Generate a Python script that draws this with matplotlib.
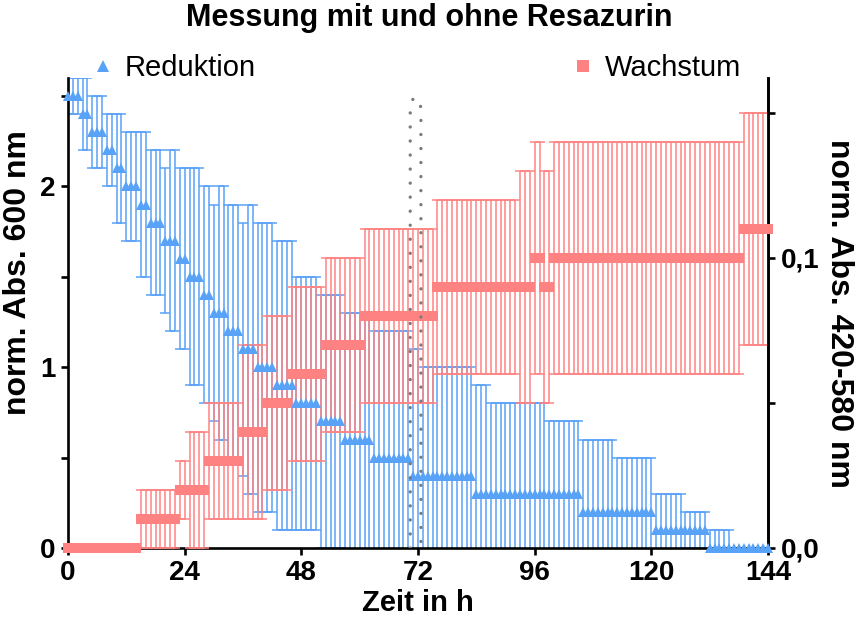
import numpy as np
import matplotlib
matplotlib.use("Agg")
import matplotlib.pyplot as plt
from matplotlib.lines import Line2D
from matplotlib.path import Path
from matplotlib.patches import PathPatch

# hourly readings, 0..144 h
hours = np.arange(0, 145)

reduktion_levels = [2.5, 2.4, 2.3, 2.2, 2.1, 2.0, 1.9, 1.8, 1.7, 1.6, 1.5, 1.4, 1.3,
                    1.2, 1.1, 1.0, 0.9, 0.8, 0.7, 0.6, 0.5, 0.4, 0.3, 0.2, 0.1, 0.0]
reduktion_runs = [3, 2, 3, 2, 2, 3, 2, 3, 3, 2, 3, 2, 3,
                  3, 3, 4, 4, 5, 5, 6, 8, 13, 22, 15, 11, 13]
reduktion_sd_levels = [0.1, 0.2, 0.3, 0.4, 0.5, 0.6, 0.7, 0.8, 0.7, 0.6, 0.5, 0.4, 0.3, 0.2, 0.1, 0.0]
reduktion_sd_runs = [3, 7, 5, 6, 4, 6, 6, 10, 26, 14, 12, 14, 8, 6, 10, 8]

# Wachstum (right axis)
wachstum_levels = [0.00, 0.01, 0.02, 0.03, 0.04, 0.05, 0.06, 0.07, 0.08, 0.09,
                   0.10, 0.09, 0.10, 0.11]
wachstum_runs = [15, 8, 6, 7, 5, 5, 7, 8, 15, 20, 2, 2, 39, 6]
wachstum_sd_levels = [0.0, 0.01, 0.02, 0.03, 0.04]
wachstum_sd_runs = [15, 10, 11, 57, 52]

# dotted marker box around the 72 h reading
box_x = [70.4, 72.6]
box_top = 2.49

reduktion = np.repeat(reduktion_levels, reduktion_runs)
reduktion_sd = np.repeat(reduktion_sd_levels, reduktion_sd_runs)
wachstum = np.repeat(wachstum_levels, wachstum_runs)
wachstum_sd = np.repeat(wachstum_sd_levels, wachstum_sd_runs)

BLUE = "#58a2f8"
RED = "#ff8282"

plt.rcParams["font.family"] = ["Liberation Sans", "DejaVu Sans"]
plt.rcParams["font.weight"] = "bold"

fig = plt.figure(figsize=(8.58, 6.28), dpi=100)
ax = fig.add_axes([68 / 858, 80 / 628, 700 / 858, 470 / 628])
ax2 = ax.twinx()

ax.errorbar(hours, reduktion, yerr=reduktion_sd, fmt="none", ecolor=BLUE,
            elinewidth=1.1, capsize=3.6, capthick=1.1, zorder=2)
ax2.errorbar(hours, wachstum, yerr=wachstum_sd, fmt="none", ecolor=RED,
             elinewidth=1.1, capsize=3.6, capthick=1.1, zorder=2)
# markers on top of both error-bar sets
ax2.plot(hours, reduktion, "^", color=BLUE, ms=7, mew=0, transform=ax.transData,
         clip_on=False, zorder=4)
ax2.plot(hours, wachstum, "s", color=RED, ms=7.5, mew=0, clip_on=False, zorder=5)

# rounded dotted box
x0, x1 = box_x
xm = (x0 + x1) / 2
verts = [(x0, 0), (x0, box_top - 0.08), (x0, box_top), (xm, box_top),
         (x1, box_top), (x1, box_top - 0.08), (x1, 0)]
codes = [Path.MOVETO, Path.LINETO, Path.CURVE3, Path.CURVE3,
         Path.CURVE3, Path.CURVE3, Path.LINETO]
ax2.add_patch(PathPatch(Path(verts, codes), transform=ax.transData, fill=False,
                        edgecolor="#7a7a7a", lw=2.4, linestyle=(0, (0.01, 4.2)),
                        capstyle="round", zorder=6))

ax.set_xlim(0, 144)
ax.set_ylim(0, 2.6)
ax2.set_ylim(0, 0.162)
ax.set_xticks(range(0, 145, 24))
ax.set_yticks(np.arange(0, 2.6, 0.5))
ax.set_yticklabels(["0", "", "1", "", "2", ""])
ax2.set_yticks([0, 0.05, 0.1, 0.15])
ax2.set_yticklabels(["0,0", "", "0,1", ""])

for a in (ax, ax2):
    for s in a.spines.values():
        s.set_linewidth(1.9)
    a.spines["top"].set_visible(False)
    a.tick_params(width=1.9, length=5, labelsize=20, pad=4)
ax2.spines["left"].set_visible(False)
ax2.spines["bottom"].set_visible(False)

ax.set_xlabel("Zeit in h", fontsize=21, fontweight="bold", labelpad=2)
ax.set_ylabel("norm. Abs. 600 nm", fontsize=23, fontweight="bold")
ax.yaxis.set_label_coords(-0.05, 0.585)
ax2.set_ylabel("norm. Abs. 420-580 nm", fontsize=23, fontweight="bold",
               rotation=270, labelpad=25)
fig.text(0.5, 1 - 18 / 628, "Messung mit und ohne Resazurin", ha="center", va="center",
         fontsize=22, fontweight="bold")

leg_kw = dict(frameon=False, handlelength=0.8, handletextpad=0.35, borderpad=0,
              borderaxespad=0, prop={"size": 21, "weight": "normal"})
fig.legend([Line2D([], [], ls="", marker="^", color=BLUE, ms=9, mew=0)], ["Reduktion"],
           loc="center left", bbox_to_anchor=(91 / 858, 1 - 68 / 628), **leg_kw)
fig.legend([Line2D([], [], ls="", marker="s", color=RED, ms=9, mew=0)], ["Wachstum"],
           loc="center left", bbox_to_anchor=(571 / 858, 1 - 68 / 628), **leg_kw)

fig.savefig("out.png", dpi=100)
